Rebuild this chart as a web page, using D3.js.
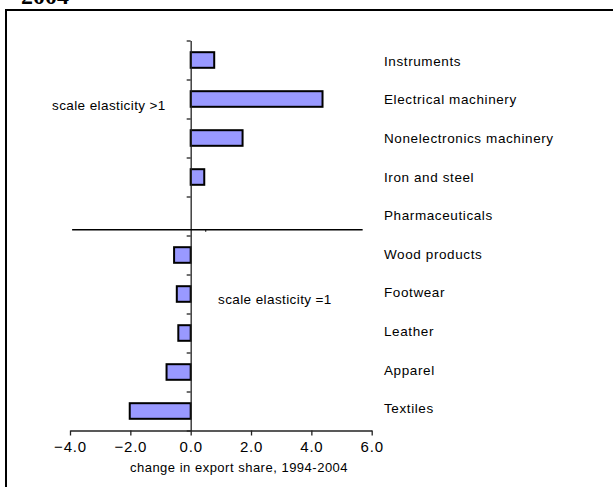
<!DOCTYPE html>
<html><head><meta charset="utf-8">
<script src="https://cdn.jsdelivr.net/npm/d3@7"></script>
<style>
body{margin:0;background:#fff}
text{font-family:"Liberation Sans",Arial,sans-serif;fill:#000}
</style></head>
<body><svg id="c" width="613" height="487"></svg>
<script>
const categories = ["Instruments","Electrical machinery","Nonelectronics machinery","Iron and steel","Pharmaceuticals","Wood products","Footwear","Leather","Apparel","Textiles"];
const values = [0.78, 4.37, 1.72, 0.45, 0, -0.55, -0.46, -0.41, -0.8, -2.02];
const xTicks = [-4, -2, 0, 2, 4, 6];
const groupLabels = ["scale elasticity >1", "scale elasticity =1"];
const titleText = "2004";
const xTitle = "change in export share, 1994-2004";

const svg = d3.select("#c");

// frame
svg.append("line").attr("x1",6).attr("x2",6).attr("y1",9).attr("y2",487).attr("stroke","#000").attr("stroke-width",2);
svg.append("line").attr("x1",5).attr("x2",613).attr("y1",10).attr("y2",10).attr("stroke","#000").attr("stroke-width",2);
svg.append("text").attr("x",21).attr("y",3.5).text(titleText)
  .style("font-family","'Liberation Serif','Times New Roman',serif").style("font-weight","bold").style("font-size","24px");

const x = d3.scaleLinear().domain([-4, 6]).range([70, 371.7]);
const y = d3.scaleBand().domain(categories).range([40.5, 430.5]).paddingInner(0.6).paddingOuter(0.3);
const yb = d3.scaleLinear().domain([0, categories.length]).range([40.5, 430.5]);
const yl = d3.scalePoint().domain(categories).range([61, 408.5]);

// bars
svg.append("g").selectAll("rect").data(categories.map((c,i)=>({c, v: values[i]}))).join("rect")
  .attr("x", d => x(Math.min(0, d.v)))
  .attr("width", d => Math.abs(x(d.v) - x(0)))
  .attr("y", d => y(d.c))
  .attr("height", y.bandwidth())
  .attr("fill", d => d.v === 0 ? "none" : "#9999ff")
  .attr("stroke", d => d.v === 0 ? "none" : "#000")
  .attr("stroke-width", 2);

// vertical axis with ticks at band boundaries
const ya = svg.append("g").attr("transform", `translate(${x(0)},0)`)
  .call(d3.axisLeft(yb).ticks(categories.length).tickSize(4).tickSizeOuter(0).tickFormat(""));
ya.select(".domain").attr("stroke","#222").attr("stroke-width",1.3);
ya.selectAll(".tick line").attr("stroke","#222").attr("stroke-width",1.3);

// x axis
const xa = svg.append("g").attr("transform", "translate(0,430.5)")
  .call(d3.axisBottom(x).tickValues(xTicks).tickSize(5).tickSizeOuter(0).tickPadding(6).tickFormat(d3.format(".1f")));
xa.select(".domain").attr("stroke","#222").attr("stroke-width",1.3);
xa.selectAll(".tick line").attr("stroke","#222").attr("stroke-width",1.3);
xa.selectAll(".tick text").style("font-size","15px").style("font-family","'Liberation Sans',Arial,sans-serif").attr("fill","#000").style("letter-spacing","0.8px");

svg.append("text").attr("x", 239).attr("y", 472).attr("text-anchor","middle")
  .style("font-size","13px").style("letter-spacing","0.5px").text(xTitle);

// divider line
const divY = y("Pharmaceuticals") + y.bandwidth() + 6;
svg.append("line").attr("x1", x(-3.93)).attr("x2", x(5.7)).attr("y1", divY).attr("y2", divY)
  .attr("stroke","#000").attr("stroke-width",1.6);
svg.append("line").attr("x1", x(0.5)).attr("x2", x(0.5)).attr("y1", divY).attr("y2", divY+2)
  .attr("stroke","#000").attr("stroke-width",1);

// category labels
svg.append("g").selectAll("text").data(categories).join("text")
  .attr("x", 384).attr("y", d => yl(d)).attr("dy","0.35em")
  .style("font-size","13.5px").style("letter-spacing","0.6px").text(d => d);

// group labels
svg.append("text").attr("x", 52).attr("y", 105).attr("dy","0.35em").style("font-size","13.5px").style("letter-spacing","0.4px").text(groupLabels[0]);
svg.append("text").attr("x", 218).attr("y", 299).attr("dy","0.35em").style("font-size","13.5px").style("letter-spacing","0.4px").text(groupLabels[1]);
</script>
</body></html>
